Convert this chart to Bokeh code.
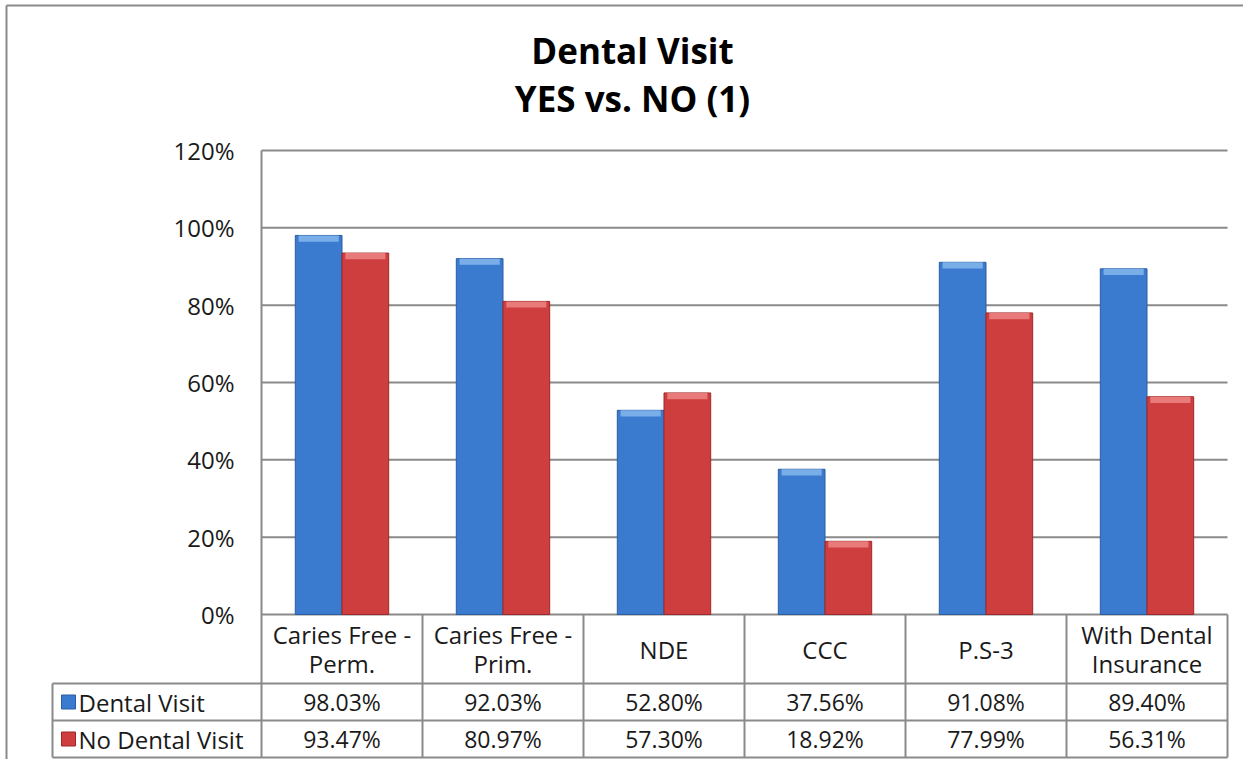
from bokeh.plotting import figure
from bokeh.models import Range1d, ColumnDataSource
from bokeh.embed import file_html
from bokeh.resources import INLINE
from bokeh.core.properties import value
import numpy as np

# ---------------- data ----------------
categories = ["Caries Free -\nPerm.", "Caries Free -\nPrim.", "NDE", "CCC", "P.S-3",
              "With Dental\nInsurance"]
series_names = ["Dental Visit", "No Dental Visit"]
dental_visit = [98.03, 92.03, 52.80, 37.56, 91.08, 89.40]
no_dental_visit = [93.47, 80.97, 57.30, 18.92, 77.99, 56.31]
y_ticks = [0, 20, 40, 60, 80, 100, 120]
y_tick_labels = ["0%", "20%", "40%", "60%", "80%", "100%", "120%"]
title_lines = ["Dental Visit", "YES vs. NO (1)"]

# ---------------- style / layout constants ----------------
FONT = "Open Sans"
GRID = "#8a8a8a"
TXT = "#1a1a1a"
BLUE, BLUE_D, BLUE_L = "#3b7bcf", "#2a5d9f", "#7aaee8"
RED, RED_D, RED_L = "#cf3e3e", "#9e2727", "#e87a7a"
W, H = 1243, 759
n = len(categories)

K = 464 / 120.0          # pixels per percentage point
CW = 161.0               # pixels per category column
def ux(px):              # canvas-pixel x -> data x
    return (px - 261) / CW
def uy(py):              # canvas-pixel y -> data y
    return (614 - py) / K

x_lo, x_hi = ux(0), ux(W)
y_lo, y_hi = uy(H), uy(0)
leg_left = ux(52)
y_head = uy(683)
y_row1 = uy(720)
y_bot = uy(757)

centers = np.arange(n) + 0.5
bw = 0.29
off = 0.145

p = figure(width=W, height=H, x_range=Range1d(x_lo, x_hi), y_range=Range1d(y_lo, y_hi),
           output_backend="svg", toolbar_location=None, title=None,
           x_axis_location=None, y_axis_location=None,
           min_border_left=0, min_border_right=0, min_border_top=0, min_border_bottom=0)
p.outline_line_color = None
p.background_fill_color = "white"
p.border_fill_color = "white"
p.xgrid.visible = False
p.ygrid.visible = False

# outer chart border (left and top)
p.segment(x0=[ux(6), ux(6)], x1=[ux(6), x_hi], y0=[uy(5), uy(5)], y1=[y_lo, uy(5)],
          line_color=GRID, line_width=2)

# gridlines (plot area)
p.segment(x0=[0] * len(y_ticks), x1=[n] * len(y_ticks), y0=y_ticks, y1=y_ticks,
          line_color=GRID, line_width=2)
# y tick labels
p.text(x=[0] * len(y_ticks), y=y_ticks, text=y_tick_labels, x_offset=-27,
       text_align="right", text_baseline="middle", text_font=value(FONT),
       text_font_size="24px", text_color=TXT)

# bars
src = ColumnDataSource(dict(
    xb=centers - off, xr=centers + off,
    dv=dental_visit, ndv=no_dental_visit,
    dv_b=[v - 1.6 for v in dental_visit], ndv_b=[v - 1.6 for v in no_dental_visit],
))
p.vbar(x="xb", top="dv", width=bw, source=src, fill_color=BLUE, line_color=BLUE_D, line_width=1)
p.vbar(x="xr", top="ndv", width=bw, source=src, fill_color=RED, line_color=RED_D, line_width=1)
p.vbar(x="xb", top="dv", bottom="dv_b", width=bw * 0.86, source=src, fill_color=BLUE_L, line_color=None)
p.vbar(x="xr", top="ndv", bottom="ndv_b", width=bw * 0.86, source=src, fill_color=RED_L, line_color=None)

# ---------------- data table ----------------
vx0 = [0] + list(range(1, n + 1)) + [leg_left]
vy0 = [y_ticks[-1]] + [0] * n + [y_head]
p.segment(x0=vx0, x1=vx0, y0=vy0, y1=[y_bot] * len(vx0), line_color=GRID, line_width=2)
p.segment(x0=[leg_left] * 3, x1=[n] * 3, y0=[y_head, y_row1, y_bot], y1=[y_head, y_row1, y_bot],
          line_color=GRID, line_width=2)

# header (category labels)
p.text(x=list(centers), y=[y_head / 2] * n, text=categories, text_align="center",
       text_baseline="middle", text_font=value(FONT), text_font_size="24px",
       text_line_height=0.9, text_color=TXT)

row_y = [(y_head + y_row1) / 2, (y_row1 + y_bot) / 2]
for vals, yy in zip([dental_visit, no_dental_visit], row_y):
    p.text(x=list(centers), y=[yy] * n, text=[f"{v:.2f}%" for v in vals],
           text_align="center", text_baseline="middle", text_font=value(FONT),
           text_font_size="23px", text_color=TXT)

p.scatter(x=[ux(68)] * 2, y=row_y, marker="square", size=14,
          fill_color=[BLUE, RED], line_color=[BLUE_D, RED_D], line_width=1)
p.text(x=[ux(78)] * 2, y=row_y, text=series_names, text_align="left",
       text_baseline="middle", text_font=value(FONT), text_font_size="24px",
       text_color=TXT)

# ---------------- title ----------------
p.text(x=[ux(632)] * 2, y=[uy(50), uy(98)], text=title_lines, text_align="center",
       text_baseline="middle", text_font=value(FONT), text_font_size="35px",
       text_font_style="bold", text_color="black")

open("out.html", "w").write(file_html(p, INLINE))
